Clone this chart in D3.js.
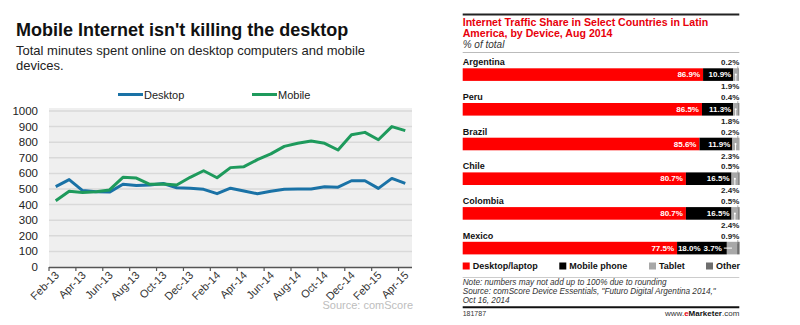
<!DOCTYPE html>
<html><head><meta charset="utf-8">
<script src="https://cdn.jsdelivr.net/npm/d3@7/dist/d3.min.js"></script>
<style>
body{margin:0;background:#fff}
svg{display:block}
text{font-family:"Liberation Sans",Arial,Helvetica,sans-serif}
</style>
</head><body>
<svg id="c" width="800" height="325"></svg>
<script>
// ---------- Left chart data ----------
const months = ["Feb-13","Mar-13","Apr-13","May-13","Jun-13","Jul-13","Aug-13","Sep-13","Oct-13","Nov-13","Dec-13",
  "Jan-14","Feb-14","Mar-14","Apr-14","May-14","Jun-14","Jul-14","Aug-14","Sep-14","Oct-14","Nov-14","Dec-14",
  "Jan-15","Feb-15","Mar-15","Apr-15"];
const xTickLabels = ["Feb-13","Apr-13","Jun-13","Aug-13","Oct-13","Dec-13","Feb-14","Apr-14","Jun-14","Aug-14","Oct-14","Dec-14","Feb-15","Apr-15"];
const desktop = [515,560,490,483,480,530,522,525,535,508,505,498,470,505,487,470,485,498,500,500,515,512,553,553,504,568,536];
const mobile  = [425,485,478,483,494,575,570,530,532,526,575,617,572,637,643,688,725,773,793,808,793,750,848,863,816,900,874];
const yTicks = [0,100,200,300,400,500,600,700,800,900,1000];
const seriesNames = ["Desktop","Mobile"];
const seriesColors = ["#1a72a6","#1e9a5c"];

// ---------- Right chart data ----------
const countries = ["Argentina","Peru","Brazil","Chile","Colombia","Mexico"];
const desktopShare = [86.9,86.5,85.6,80.7,80.7,77.5];
const mobileShare  = [10.9,11.3,11.9,16.5,16.5,18.0];
const tabletShare  = [1.9,1.8,2.3,2.4,2.4,3.7];
const otherShare   = [0.2,0.4,0.2,0.5,0.5,0.9];
const deviceNames  = ["Desktop/laptop","Mobile phone","Tablet","Other"];
const deviceColors = ["#ff0000","#000000","#a8a8a8","#6e6e6e"];

const svg = d3.select("#c");

// ================= LEFT CHART =================
svg.append("text").attr("x",16).attr("y",36).attr("font-size",18).attr("font-weight","bold").attr("fill","#111")
  .text("Mobile Internet isn't killing the desktop");
svg.append("text").attr("x",16).attr("y",55).attr("font-size",13).attr("fill","#222")
  .text("Total minutes spent online on desktop computers and mobile");
svg.append("text").attr("x",16).attr("y",70).attr("font-size",13).attr("fill","#222").text("devices.");

const x = d3.scaleBand().domain(months).range([49,412]);
const y = d3.scaleLinear().domain([0,1000]).range([267,111]);
const cx = m => x(m) + x.bandwidth()/2;

svg.append("rect").attr("x",49).attr("y",108).attr("width",363).attr("height",159).attr("fill","#efefef");
svg.selectAll(".grid").data(yTicks.slice(1)).join("line")
  .attr("x1",49).attr("x2",412).attr("y1",d=>y(d)).attr("y2",d=>y(d))
  .attr("stroke","#d9d9d9").attr("stroke-width",1.5);
svg.selectAll(".yl").data(yTicks).join("text")
  .attr("x",38).attr("y",d=>y(d)+4).attr("text-anchor","end").attr("font-size",11.5).attr("fill","#222")
  .text(d=>d);

// x axis
svg.append("line").attr("x1",49).attr("x2",412).attr("y1",267.5).attr("y2",267.5).attr("stroke","#555").attr("stroke-width",1.5);
svg.selectAll(".xt").data(xTickLabels).join("line")
  .attr("x1",d=>x(d)).attr("x2",d=>x(d)).attr("y1",267).attr("y2",271).attr("stroke","#555").attr("stroke-width",1.2);
svg.selectAll(".xl").data(xTickLabels).join("text")
  .attr("text-anchor","end").attr("font-size",11).attr("fill","#333")
  .attr("transform",d=>`translate(${cx(d)+4},${276}) rotate(-45)`)
  .text(d=>d);

// lines
const lineGen = d3.line().x((d,i)=>cx(months[i])).y(d=>y(d));
[desktop, mobile].forEach((s,k)=>{
  svg.append("path").datum(s).attr("d",lineGen).attr("fill","none")
    .attr("stroke",seriesColors[k]).attr("stroke-width",3).attr("stroke-linejoin","round");
});

// legend
const legX = [118,252];
seriesNames.forEach((n,k)=>{
  svg.append("line").attr("x1",legX[k]).attr("x2",legX[k]+25).attr("y1",94.5).attr("y2",94.5)
    .attr("stroke",seriesColors[k]).attr("stroke-width",3);
  svg.append("text").attr("x",legX[k]+26).attr("y",98.5).attr("font-size",11).attr("fill","#222").text(n);
});
svg.append("text").attr("x",413).attr("y",309).attr("text-anchor","end").attr("font-size",11)
  .attr("fill","#bdbdbd").text("Source: comScore");

// ================= RIGHT CHART =================
const L = 462.7, R = 739.3;
svg.append("line").attr("x1",L).attr("x2",R).attr("y1",14.5).attr("y2",14.5).attr("stroke","#222").attr("stroke-width",2);
svg.append("text").attr("x",L).attr("y",26).attr("font-size",10.6).attr("font-weight","bold").attr("fill","#e8000b")
  .text("Internet Traffic Share in Select Countries in Latin");
svg.append("text").attr("x",L).attr("y",36.5).attr("font-size",10.6).attr("font-weight","bold").attr("fill","#e8000b")
  .text("America, by Device, Aug 2014");
svg.append("text").attr("x",L).attr("y",47.5).attr("font-size",10).attr("font-style","italic").attr("fill","#333")
  .text("% of total");
svg.append("line").attr("x1",L).attr("x2",R).attr("y1",52.5).attr("y2",52.5).attr("stroke","#bbb").attr("stroke-width",1);

const xs = d3.scaleLinear().domain([0,100]).range([L,R]);
const ys = d3.scaleBand().domain(countries).range([55,55+34.7*6]);
const barH = 12.6;

countries.forEach((c,i)=>{
  const top = ys(c)+13.3;
  const vals = [desktopShare[i],mobileShare[i],tabletShare[i],otherShare[i]];
  let cum = 0;
  const segs = vals.map(v=>{const s={x0:cum,x1:cum+v,v}; cum+=v; return s;});
  svg.append("text").attr("x",L).attr("y",ys(c)+10.3).attr("font-size",9).attr("font-weight","bold").attr("fill","#111").text(c);
  svg.selectAll(null).data(segs).join("rect")
    .attr("x",d=>xs(d.x0)).attr("width",d=>xs(d.x1)-xs(d.x0)).attr("y",top).attr("height",barH)
    .attr("fill",(d,k)=>deviceColors[k]);
  const tabletInside = xs(segs[2].x1)-xs(segs[2].x0) > 9;
  let blackLabelEnd = xs(segs[1].x1)-2;
  if (tabletInside) {
    const tx = xs(segs[2].x0)-5;
    const t = svg.append("text").attr("x",tx).attr("y",top+9).attr("text-anchor","end").attr("font-size",8).attr("font-weight","bold")
      .attr("fill","#fff").text(tabletShare[i].toFixed(1)+"%");
    svg.append("line").attr("x1",xs(segs[2].x0)-3).attr("x2",(xs(segs[2].x0)+xs(segs[2].x1))/2).attr("y1",top+barH/2).attr("y2",top+barH/2)
      .attr("stroke","#fff").attr("stroke-width",1);
    blackLabelEnd = tx - t.node().getComputedTextLength() - 3;
  } else {
    svg.append("text").attr("x",R).attr("y",top+barH+8.3).attr("text-anchor","end").attr("font-size",8).attr("font-weight","bold")
      .attr("fill","#222").text(tabletShare[i].toFixed(1)+"%");
    const lx = (xs(segs[2].x0)+xs(segs[2].x1))/2;
    svg.append("line").attr("x1",lx).attr("x2",lx).attr("y1",top+barH/2).attr("y2",top+barH+1.5).attr("stroke","#fff").attr("stroke-width",1);
    svg.append("circle").attr("cx",lx).attr("cy",top+barH/2).attr("r",1).attr("fill","#fff");
  }
  svg.append("text").attr("x",R).attr("y",ys(c)+10.3).attr("text-anchor","end").attr("font-size",8).attr("font-weight","bold")
    .attr("fill","#222").text(otherShare[i].toFixed(1)+"%");
  const ox = Math.min((xs(segs[3].x0)+xs(segs[3].x1))/2, R-1.5);
  svg.append("line").attr("x1",ox).attr("x2",ox).attr("y1",ys(c)+11.5).attr("y2",top+2).attr("stroke","#999").attr("stroke-width",0.8);
  svg.append("text").attr("x",xs(segs[0].x1)-3).attr("y",top+9).attr("text-anchor","end").attr("font-size",8).attr("font-weight","bold")
    .attr("fill","#fff").text(desktopShare[i].toFixed(1)+"%");
  svg.append("text").attr("x",blackLabelEnd).attr("y",top+9).attr("text-anchor","end").attr("font-size",8).attr("font-weight","bold")
    .attr("fill","#fff").text(mobileShare[i].toFixed(1)+"%");
});

// legend
const legPos = [462.7,559.3,649,706];
deviceNames.forEach((n,k)=>{
  svg.append("rect").attr("x",legPos[k]).attr("y",262.5).attr("width",7).attr("height",7).attr("fill",deviceColors[k]);
  svg.append("text").attr("x",legPos[k]+10).attr("y",269.3).attr("font-size",9).attr("font-weight","bold").attr("fill","#111").text(n);
});
svg.append("line").attr("x1",L).attr("x2",R).attr("y1",277.5).attr("y2",277.5).attr("stroke","#ccc").attr("stroke-width",1);
const notes = ["Note: numbers may not add up to 100% due to rounding",
  "Source: comScore Device Essentials, \"Futuro Digital Argentina 2014,\"",
  "Oct 16, 2014"];
notes.forEach((t,k)=>{
  svg.append("text").attr("x",L).attr("y",285.3+k*8.8).attr("font-size",8.2).attr("font-style","italic").attr("fill","#333").text(t);
});
svg.append("line").attr("x1",L).attr("x2",R).attr("y1",307.3).attr("y2",307.3).attr("stroke","#111").attr("stroke-width",2);
svg.append("text").attr("x",L).attr("y",315.5).attr("font-size",7).attr("fill","#333").text("181787");
const em = svg.append("text").attr("x",R).attr("y",315.5).attr("text-anchor","end").attr("font-size",8).attr("fill","#333");
em.append("tspan").text("www.");
em.append("tspan").attr("fill","#e8000b").attr("font-weight","bold").text("e");
em.append("tspan").attr("font-weight","bold").attr("fill","#111").text("Marketer");
em.append("tspan").text(".com");
</script>
</body></html>
